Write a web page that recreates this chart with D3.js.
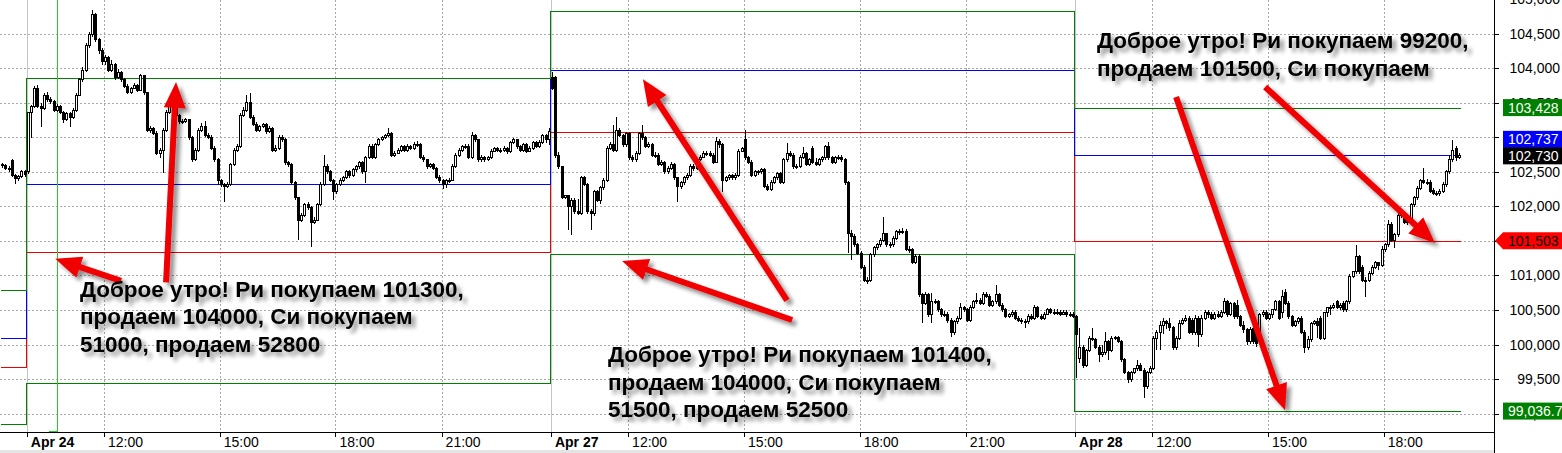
<!DOCTYPE html>
<html><head><meta charset="utf-8">
<script src="https://cdn.jsdelivr.net/npm/d3@7"></script>
<style>html,body{margin:0;padding:0;background:#fff;overflow:hidden}svg{display:block}</style>
</head><body>
<svg id="chart" width="1562" height="453"></svg>
<script>
// ---------- DATA (5-minute candles, [open, high, low, close]) ----------
const apr23 = [
[102600,102620,102560,102590],[102590,102610,102530,102550],[102550,102580,102500,102540],[102660,102680,102430,102440],
[102440,102470,102320,102400],[102400,102450,102370,102430],[102430,102520,102410,102500],[102500,102530,102430,102460]];

const apr24 = [
[102500,103370,102470,103350],[103350,103460,102990,103440],[103440,103740,103420,103710],[103710,103750,103420,103450],
[103450,103490,103150,103420],[103420,103640,103400,103610],[103610,103660,103510,103540],[103540,103580,103480,103510],
[103510,103540,103360,103390],[103390,103480,103370,103450],[103450,103470,103330,103360],[103360,103380,103200,103250],
[103250,103370,103230,103340],[103340,103360,103150,103280],[103280,103420,103260,103390],[103390,103640,103370,103610],
[103610,103860,103590,103830],[103830,104010,103800,103970],[103970,104360,103940,104330],[104330,104520,104290,104480],
[104480,104840,104450,104770],[104770,104800,104380,104410],[104410,104440,104200,104260],[104260,104290,104040,104090],
[104090,104190,104050,104150],[104150,104170,103940,103970],[103970,104110,103950,104050],[104050,104070,103830,103860],
[103860,103990,103840,103940],[103940,103960,103800,103830],[103830,103850,103710,103740],[103740,103770,103620,103650],
[103650,103730,103630,103710],[103710,103780,103690,103750],[103750,103770,103660,103680],[103680,103920,103670,103890],
[103890,103900,103610,103640],[103640,103660,103070,103100],[103100,103160,103060,103130],[103130,103150,103030,103060],
[103060,103090,102740,102770],[102770,102850,102700,102810],[102810,103130,102480,103100],[103100,103390,103080,103360],
[103360,103470,103330,103440],[103440,103520,103420,103470],[103470,103500,103290,103320],[103320,103340,103190,103220],
[103220,103260,103190,103230],[103230,103280,103200,103250],[103250,103270,102960,102990],[102990,103010,102640,102670],
[102670,102840,102650,102810],[102810,103130,102790,103100],[103100,103200,103070,103160],[103160,103230,103000,103030],
[103030,103060,102970,103000],[103000,103030,102810,102840],[102840,102870,102640,102670],[102670,102700,102310,102380],
[102380,102400,102280,102310],[102310,102340,102060,102290],[102290,102350,102260,102320],[102320,102630,102300,102600],
[102600,102840,102580,102810],[102810,102900,102790,102860],[102860,103350,102840,103320],[103320,103430,103290,103390],
[103390,103610,103370,103500],[103500,103640,103270,103290],[103290,103320,103160,103190],[103190,103220,103070,103100],
[103100,103180,103080,103150],[103150,103210,103130,103180],[103180,103200,103050,103080],[103080,103160,103060,103130],
[103130,103150,102780,102810],[102810,102880,102790,102840],[102840,103030,102810,103000],[103000,103030,102930,102960],
[102960,102990,102600,102630],[102630,102660,102570,102600],[102600,102620,102320,102350],[102350,102370,102090,102120],
[102120,102140,101510,101800],[101800,101910,101770,101870],[101870,102050,101840,102020],[102020,102060,101950,101980],
[101980,102010,101410,101770],[101770,101840,101750,101800],[101800,102050,101780,102020],[102020,102350,102000,102320],
[102320,102740,102300,102580],[102580,102610,102470,102500],[102500,102530,102350,102380],[102380,102400,102090,102210],
[102210,102340,102180,102310],[102310,102410,102290,102380],[102380,102440,102350,102410],[102410,102530,102390,102500],
[102500,102530,102410,102440],[102440,102560,102420,102530],[102530,102600,102500,102570],[102570,102660,102540,102630],
[102630,102650,102470,102500],[102500,102730,102340,102700],[102700,102900,102680,102870],[102870,102900,102690,102710],
[102710,102920,102690,102890],[102890,102990,102870,102960],[102960,103020,102940,102990],[102990,103050,102970,103020],
[103020,103130,103000,103050],[103050,103070,102710,102740],[102740,102800,102720,102770],[102770,102840,102750,102810],
[102810,102890,102790,102860],[102860,102880,102780,102810],[102810,102900,102790,102870],[102870,102890,102810,102840],
[102840,102930,102820,102900],[102900,102940,102860,102890],[102890,102920,102690,102710],[102710,102740,102640,102670],
[102670,102690,102540,102570],[102570,102630,102550,102600],[102600,102630,102520,102550],[102550,102570,102400,102420],
[102420,102450,102340,102380],[102380,102400,102250,102310],[102310,102400,102270,102370],[102370,102410,102340,102380],
[102380,102610,102360,102580],[102580,102770,102560,102740],[102740,102840,102720,102810],[102810,102890,102790,102860],
[102860,102900,102830,102870],[102870,102900,102690,102710],[102710,103080,102690,103020],[103020,103040,102930,102960],
[102960,102980,102640,102670],[102670,102740,102640,102710],[102710,102730,102640,102670],[102670,102730,102650,102700],
[102700,102830,102680,102800],[102800,102860,102780,102830],[102830,102860,102780,102810],[102810,102850,102770,102810],
[102810,102870,102780,102840],[102840,102860,102760,102790],[102790,102950,102770,102920],[102920,102990,102900,102960],
[102960,102980,102830,102860],[102860,102880,102780,102810],[102810,102920,102790,102890],[102890,102910,102770,102800],
[102800,102870,102780,102840],[102840,102940,102820,102920],[102920,102940,102840,102870],[102870,102960,102850,102930],
[102930,103050,102900,103020],[103020,103040,102920,102960],[102960,103140,102890,103080]];

const apr27 = [
[103860,103940,103680,103710],[103870,103890,102700,102740],[102740,102780,102540,102570],[102570,102590,102100,102130],
[102130,102170,102100,102150],[102150,102170,101650,101990],[101990,102120,101580,102090],[102090,102120,101890,101920],
[101920,102110,101870,101900],[101900,102440,101880,102410],[102410,102440,102290,102320],[102320,102340,101890,101920],
[101920,101960,101660,101890],[101890,102240,101860,102210],[102210,102230,102060,102090],[102090,102300,102040,102270],
[102270,102410,102240,102380],[102380,102870,102350,102840],[102840,102930,102810,102890],[102890,103180,102780,102810],
[102810,103290,102780,103100],[103100,103130,103000,103030],[103030,103050,102860,102890],[102890,103080,102860,103050],
[103050,103070,102670,102700],[102700,102740,102640,102670],[102670,102800,102640,102770],[102770,103080,102740,103050],
[103050,103180,102960,102990],[102990,103010,102840,102870],[102870,102930,102840,102900],[102900,102920,102710,102740],
[102740,102780,102700,102740],[102740,102770,102580,102610],[102610,102670,102580,102640],[102640,102660,102470,102500],
[102500,102580,102470,102550],[102550,102640,102520,102610],[102610,102630,102380,102410],[102410,102430,102060,102280],
[102280,102370,102250,102340],[102340,102440,102310,102410],[102410,102480,102380,102450],[102450,102610,102420,102580],
[102580,102610,102510,102550],[102550,102700,102530,102670],[102670,102740,102650,102710],[102710,102800,102700,102770],
[102770,102800,102730,102760],[102760,102800,102710,102740],[102740,102770,102610,102640],[102640,103000,102620,102940],
[102940,102970,102850,102890],[102890,102910,102210,102380],[102380,102440,102350,102410],[102410,102470,102380,102440],
[102440,102470,102380,102410],[102410,102480,102380,102450],[102450,102830,102420,102800],[102800,102860,102780,102830],
[102960,103100,102670,102700],[102700,102730,102610,102640],[102640,102670,102420,102450],[102450,102530,102420,102500],
[102500,102530,102460,102500],[102500,102560,102470,102530],[102530,102550,102260,102290],[102290,102320,102220,102250],
[102250,102380,102220,102350],[102350,102440,102320,102410],[102410,102500,102380,102470],[102470,102500,102320,102350],
[102350,102700,102320,102670],[102670,102920,102640,102770],[102770,102800,102710,102740],[102740,102770,102540,102570],
[102570,102610,102540,102580],[102580,102740,102550,102710],[102710,102860,102690,102770],[102770,102790,102580,102610],
[102610,102700,102580,102670],[102840,102870,102610,102640],[102640,102700,102580,102610],[102610,102700,102580,102670],
[102670,102730,102640,102700],[102700,102890,102670,102860],[102860,102930,102670,102700],[102700,102730,102610,102640],
[102640,102730,102610,102700],[102700,102740,102670,102710],[102710,102740,102640,102670],[102670,102700,102310,102340],
[102340,102370,101320,101610],[101610,101660,101220,101570],[101570,101600,101410,101440],[101440,101470,101290,101320],
[101320,101350,101090,101120],[101120,101150,100900,100930],[100930,100980,100880,100930],[100930,101330,100900,101300],
[101300,101430,101270,101400],[101400,101470,101370,101440],[101440,101540,101410,101510],[101510,101850,101480,101600],
[101600,101620,101410,101440],[101440,101480,101400,101440],[101440,101570,101410,101540],[101540,101660,101510,101630],
[101630,101670,101590,101630],[101630,101680,101600,101640],[101640,101670,101350,101380],[101380,101420,101330,101370],
[101370,101400,101160,101190],[101190,101310,101160,101280],[101280,101310,100690,100720],[100720,100750,100310,100600],
[100600,100760,100570,100730],[100730,100750,100400,100430],[100430,100750,100310,100620],[100620,100660,100580,100620],
[100620,100650,100470,100500],[100500,100530,100400,100430],[100430,100480,100400,100440],[100440,100470,100310,100350],
[100350,100380,100110,100170],[100170,100360,100140,100330],[100330,100410,100300,100380],[100380,100600,100350,100530],
[100530,100560,100470,100500],[100500,100530,100320,100350],[100350,100570,100320,100540],[100540,100650,100510,100620],
[100620,100750,100590,100640],[100640,100670,100570,100600],[100600,100760,100570,100730],[100730,100760,100670,100700],
[100700,100730,100540,100570],[100570,100650,100540,100620],[100620,100860,100590,100730],[100730,100750,100540,100570],
[100570,100600,100470,100500],[100500,100530,100380,100410],[100410,100460,100380,100430],[100430,100500,100400,100470],
[100470,100500,100350,100380],[100380,100410,100320,100350],[100350,100380,100300,100340],[100340,100370,100240,100330],
[100330,100440,100300,100410],[100410,100440,100350,100380],[100380,100570,100350,100540],[100540,100560,100380,100410],
[100410,100440,100350,100380],[100380,100470,100350,100440],[100440,100530,100420,100500],[100500,100530,100440,100470],
[100470,100520,100430,100460],[100460,100510,100430,100470],[100470,100500,100410,100440],[100440,100500,100420,100470],
[100470,100500,100400,100430],[100430,100470,100400,100440],[100440,100470,100380,100410]];

const apr28 = [
[100400,100430,99520,100140],[99800,100240,99730,99960],[99960,99990,99660,99700],[99700,99940,99670,99920],
[99920,100120,99890,100090],[100090,100240,100050,100070],[100070,100100,99930,99960],[99960,100000,99750,99850],
[99850,99990,99820,99880],[99880,100180,99850,100040],[100040,100060,99780,99920],[99920,100120,99890,100090],
[100090,100130,100060,100100],[100100,100130,100020,100040],[100040,100060,99750,99780],[99780,99800,99570,99600],
[99600,99620,99440,99490],[99490,99620,99460,99600],[99600,99660,99580,99650],[99650,99780,99620,99700],
[99700,99730,99610,99630],[99630,99660,99230,99390],[99390,99620,99360,99600],[99600,99690,99580,99660],
[99660,100120,99630,100090],[100090,100210,99920,100180],[100180,100340,99920,100280],[100280,100380,100150,100330],
[100330,100360,100230,100310],[100310,100380,100200,100240],[100240,100270,99920,99950],[99950,100120,99920,100090],
[100090,100350,100060,100310],[100310,100380,100280,100350],[100350,100430,100320,100380],[100380,100410,100150,100180],
[100350,100380,100140,100170],[100170,100430,100140,100380],[100380,100410,99960,100140],[100140,100420,100110,100380],
[100380,100500,100350,100470],[100470,100500,100380,100430],[100430,100470,100350,100380],[100380,100470,100350,100440],
[100440,100480,100380,100410],[100410,100500,100380,100470],[100470,100670,100440,100620],[100620,100650,100400,100430],
[100430,100620,100410,100590],[100590,100620,100370,100400],[100570,100640,100370,100400],[100400,100430,100250,100280],
[100280,100340,100170,100210],[100210,100240,100000,100040],[100040,100250,100010,100210],[100230,100260,100010,100040],
[100210,100250,99960,100020],[100060,100460,100030,100440],[100440,100500,100400,100470],[100470,100500,100360,100380],
[100380,100450,100360,100430],[100430,100520,100380,100500],[100500,100640,100480,100620],[100620,100650,100360,100380],
[100470,100790,100380,100700],[100750,100810,100570,100600],[100600,100630,100370,100400],[100400,100430,100250,100280],
[100280,100360,100250,100330],[100330,100400,100300,100380],[100380,100410,100150,100180],[100180,100210,99880,99950],
[99950,100120,99920,100070],[100070,100330,100040,100310],[100310,100360,100280,100330],[100330,100380,100100,100280],
[100380,100410,100070,100090],[100090,100470,100060,100460],[100460,100540,100400,100530],[100530,100570,100420,100540],
[100540,100600,100510,100570],[100620,100650,100510,100540],[100540,100600,100500,100570],[100600,100630,100470,100500],
[100500,100640,100470,100620],[100620,101020,100590,100990],[100990,101060,100960,101050],[101050,101440,101020,101270],
[101270,101300,101020,101050],[101120,101150,100910,100930],[100930,100980,100690,100930],[100930,101060,100900,101030],
[101030,101150,101000,101120],[101120,101210,101090,101180],[101180,101200,101080,101150],[101150,101420,101120,101370],
[101370,101470,101340,101440],[101440,101800,101410,101740],[101740,101770,101480,101510],[101510,101610,101400,101590],
[101590,101900,101560,101870],[101870,101930,101830,101900],[101900,101920,101740,101770],[101830,101860,101730,101760],
[101760,102050,101730,102020],[102020,102150,101990,102120],[102120,102290,102090,102260],[102260,102400,102230,102370],
[102370,102550,102320,102350],[102350,102390,102310,102340],[102350,102380,102190,102210],[102230,102260,102170,102190],
[102190,102220,102150,102180],[102180,102250,102150,102220],[102220,102350,102190,102310],[102310,102530,102280,102500],
[102500,102740,102470,102670],[102670,102960,102640,102810],[102830,102870,102660,102700],[102700,102770,102680,102730]];

// first bar index of each day on the shared bar axis
const dayStart = [-8, 0, 163, 326];
// session level lines (one value per day)
const levelUpper  = [100790, 103850, 104820, 103428];
const levelMid    = [100090, 102320, 103965, 102737];
const levelLow    = [99680, 101340, 103080, 101503];
const levelBottom = [98850, 99440, 101310, 99036.7];
// lime marker line (bar index, price)
const limeLine = [[6.3, 98745], [9.1, 98745], [9.1, 105100]];

const yTickValues = [99000, 99500, 100000, 100500, 101000, 101500, 102000, 102500, 103000, 103500, 104000, 104500, 105000];
const xTickIndex  = [0, 24, 60, 96, 129, 163, 187, 223, 259, 292, 326, 350, 386, 422];
const xTickLabels = ["Apr 24","12:00","15:00","18:00","21:00","Apr 27","12:00","15:00","18:00","21:00","Apr 28","12:00","15:00","18:00"];
const xTickIsDay  = [true,false,false,false,false,true,false,false,false,false,true,false,false,false];

const notes = [
  {i: 16.2, p: 100690, lines: ["Доброе утро! Ри покупаем 101300,", "продаем 104000, Си покупаем", "51000, продаем 52800"]},
  {i: 180.4, p: 99740, lines: ["Доброе утро! Ри покупаем 101400,", "продаем 104000, Си покупаем", "51500, продаем 52500"]},
  {i: 332.5, p: 104290, lines: ["Доброе утро! Ри покупаем 99200,", "продаем 101500, Си покупаем"]}
];
// arrows: [fromIndex, fromPrice, toIndex, toPrice]
const arrows = [
  [29.0, 100920, 8.5, 101240],
  [43.0, 100900, 46.1, 103800],
  [236.1, 100640, 191.3, 103840],
  [237.7, 100355, 184.8, 101210],
  [357.1, 103580, 391.0, 99050],
  [384.8, 103725, 437.6, 101470]
];

// ---------- CHART ----------
const W = 1562, H = 453, plotR = 1494, plotB = 432;
const FONT = "'Liberation Sans', Arial, Helvetica, sans-serif";
const x = d3.scaleLinear().domain([0, 326]).range([27.8, 27.8 + 326 * 3.2156]);
const y = d3.scaleLinear().domain([98734, 104985]).range([plotB, 0]);

const svg = d3.select("#chart");
const defs = svg.append("defs");
defs.append("clipPath").attr("id","plot").append("rect").attr("x",0).attr("y",0).attr("width",plotR).attr("height",plotB);
const f = defs.append("filter").attr("id","shadow").attr("x","-20%").attr("y","-20%").attr("width","140%").attr("height","160%");
f.append("feGaussianBlur").attr("in","SourceAlpha").attr("stdDeviation",2.2).attr("result","b");
f.append("feOffset").attr("in","b").attr("dx",4).attr("dy",4).attr("result","o");
f.append("feComponentTransfer").attr("in","o").attr("result","s").append("feFuncA").attr("type","linear").attr("slope",0.45);
const fm = f.append("feMerge"); fm.append("feMergeNode").attr("in","s"); fm.append("feMergeNode").attr("in","SourceGraphic");

svg.append("rect").attr("width",W).attr("height",H).attr("fill","#fff");

const plot = svg.append("g").attr("clip-path","url(#plot)");

// grid
plot.append("g").selectAll("line").data(yTickValues).join("line")
  .attr("x1",0).attr("x2",plotR).attr("y1",d=>Math.round(y(d))+0.5).attr("y2",d=>Math.round(y(d))+0.5)
  .attr("stroke","#a8a8a8").attr("stroke-dasharray","2,2").attr("shape-rendering","crispEdges");
plot.append("g").selectAll("line").data(xTickIndex.map((d,k)=>({d,k}))).join("line")
  .attr("x1",o=>Math.round(x(o.d))-0.5).attr("x2",o=>Math.round(x(o.d))-0.5).attr("y1",0).attr("y2",plotB)
  .attr("stroke",o=>xTickIsDay[o.k]?"#c4c4c4":"#a8a8a8")
  .attr("stroke-width",o=>xTickIsDay[o.k]?1.3:1)
  .attr("stroke-dasharray",o=>xTickIsDay[o.k]?null:"2,2").attr("shape-rendering","crispEdges");

// level lines
const stepIdx = [-8.7, -0.7, 162.3, 325.3];
const lastIdx = 445.3;
function levelPts(arr){ const pts = arr.map((v,k)=>({i:stepIdx[k], v})); pts.push({i:lastIdx, v:arr[arr.length-1]}); return pts; }
const lineGen = d3.line().x(d=>Math.round(x(d.i))+0.5).y(d=>Math.round(y(d.v))+0.5).curve(d3.curveStepAfter);
[[levelBottom,"#008000"],[levelLow,"#ee0000"],[levelMid,"#0000ff"],[levelUpper,"#008000"]].forEach(([arr,col])=>{
  plot.append("path").attr("d",lineGen(levelPts(arr))).attr("fill","none").attr("stroke",col)
    .attr("stroke-width",1).attr("shape-rendering","crispEdges");
});
plot.append("path").attr("d", d3.line().x(d=>Math.round(x(d[0]))+0.5).y(d=>Math.round(y(d[1]))+0.5)(limeLine))
  .attr("fill","none").attr("stroke","#22cc22").attr("stroke-width",1).attr("shape-rendering","crispEdges");

// candles
const candles = [apr23, apr24, apr27, apr28].flatMap((day,k)=>day.map((c,j)=>({i:dayStart[k]+j, o:c[0], h:c[1], l:c[2], c:c[3]})));
const cg = plot.append("g").attr("shape-rendering","crispEdges");
cg.selectAll("line").data(candles).join("line")
  .attr("x1",d=>Math.round(x(d.i))+0.5).attr("x2",d=>Math.round(x(d.i))+0.5)
  .attr("y1",d=>y(d.h)).attr("y2",d=>y(d.l)).attr("stroke","#000");
cg.selectAll("rect").data(candles).join("rect")
  .attr("x",d=>Math.round(x(d.i))-0.5).attr("width",2)
  .attr("y",d=>y(Math.max(d.o,d.c))).attr("height",d=>Math.max(1,y(Math.min(d.o,d.c))-y(Math.max(d.o,d.c))))
  .attr("fill",d=>d.c>=d.o?"#fff":"#000").attr("stroke","#000").attr("stroke-width",1);

// axes lines
svg.append("line").attr("x1",0).attr("x2",plotR).attr("y1",plotB+0.5).attr("y2",plotB+0.5).attr("stroke","#000").attr("shape-rendering","crispEdges");
svg.append("line").attr("x1",plotR+0.5).attr("x2",plotR+0.5).attr("y1",0).attr("y2",H).attr("stroke","#000").attr("shape-rendering","crispEdges");
svg.append("rect").attr("x",0).attr("y",450).attr("width",plotR).attr("height",3).attr("fill","#e4e4e4");

// y axis (right)
const ya = svg.append("g");
ya.selectAll("line").data(yTickValues).join("line")
  .attr("x1",plotR).attr("x2",plotR+5).attr("y1",d=>Math.round(y(d))+0.5).attr("y2",d=>Math.round(y(d))+0.5)
  .attr("stroke","#000").attr("shape-rendering","crispEdges");
ya.selectAll("text").data(yTickValues).join("text")
  .attr("x",1560).attr("y",d=>y(d)+5).attr("text-anchor","end")
  .attr("font-family",FONT).attr("font-size",14).attr("fill","#000").text(d=>d3.format(",")(d));

// x axis (bottom)
const xa = svg.append("g");
xa.selectAll("line").data(xTickIndex).join("line")
  .attr("x1",d=>Math.round(x(d))-0.5).attr("x2",d=>Math.round(x(d))-0.5).attr("y1",plotB).attr("y2",plotB+5)
  .attr("stroke","#000").attr("shape-rendering","crispEdges");
xa.selectAll("text").data(xTickIndex.map((d,k)=>({d,k}))).join("text")
  .attr("x",o=>x(o.d)+3).attr("y",plotB+15)
  .attr("font-family",FONT).attr("font-size",14).attr("font-weight",o=>xTickIsDay[o.k]?"bold":"normal")
  .attr("fill","#000").text(o=>xTickLabels[o.k]);

// right value labels
const lastClose = apr28[apr28.length-1][3];
const yLast = y(lastClose);
const tags = [
  {v: levelUpper[3], fill:"#008000", cy: y(levelUpper[3])},
  {v: levelMid[3], fill:"#0000ff", cy: Math.min(y(levelMid[3]), yLast-16.5)},
  {v: lastClose, fill:"#000000", cy: yLast},
  {v: levelLow[3], fill:"#ff0000", cy: y(levelLow[3]), pointer:true},
  {v: levelBottom[3], fill:"#008000", cy: y(levelBottom[3])}
];
const tg = svg.append("g");
tags.forEach(t=>{
  const top = t.cy-8.5, bot = t.cy+8.5;
  if (t.pointer) {
    tg.append("path").attr("d",`M${plotR+1},${t.cy} L1503,${top} L${W},${top} L${W},${bot} L1503,${bot} Z`).attr("fill",t.fill);
  } else {
    tg.append("rect").attr("x",1503).attr("y",top).attr("width",W-1503).attr("height",17).attr("fill",t.fill);
  }
  tg.append("text").attr("x",1508).attr("y",t.cy+5).attr("font-family",FONT).attr("font-size",14)
    .attr("fill", t.pointer ? "#000" : "#fff").text(d3.format(",")(t.v));
});

// annotations: arrows
const ag = svg.append("g").attr("filter","url(#shadow)");
arrows.forEach(([i1,p1,i2,p2])=>{
  const x1=x(i1), y1=y(p1), x2=x(i2), y2=y(p2);
  const a=Math.atan2(y2-y1,x2-x1), L=26, hw=11;
  const bx=x2-L*Math.cos(a), by=y2-L*Math.sin(a);
  ag.append("line").attr("x1",x1).attr("y1",y1).attr("x2",bx+2*Math.cos(a)).attr("y2",by+2*Math.sin(a))
    .attr("stroke","#f00000").attr("stroke-width",6);
  ag.append("polygon").attr("points",[[x2,y2],[bx+hw*Math.sin(a),by-hw*Math.cos(a)],[bx-hw*Math.sin(a),by+hw*Math.cos(a)]].map(p=>p.join(",")).join(" "))
    .attr("fill","#f00000");
});

// annotations: text
const ng = svg.append("g").attr("filter","url(#shadow)");
notes.forEach(n=>{
  const t = ng.append("text").attr("x",x(n.i)).attr("y",y(n.p)).attr("font-family",FONT)
    .attr("font-size",22.5).attr("font-weight","bold").attr("fill","#000");
  n.lines.forEach((s,k)=>t.append("tspan").attr("x",x(n.i)).attr("dy",k?27.5:0).text(s));
});
</script>
</body></html>
